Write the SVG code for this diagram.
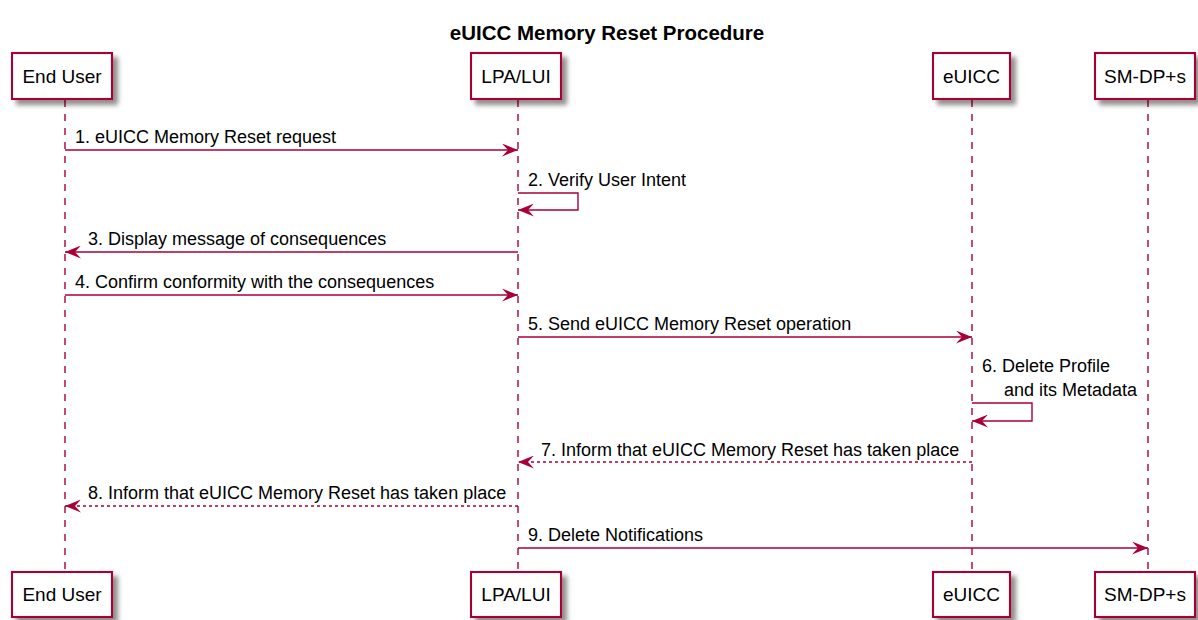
<svg xmlns="http://www.w3.org/2000/svg" width="1198" height="620" viewBox="0 0 1198 620">
<style>
.box{fill:#ffffff;stroke:#A80036;stroke-width:2.1}
.pt{font-family:"Liberation Sans",Arial,sans-serif;font-size:19px;fill:#000;text-anchor:middle}
.life{stroke:#A80036;stroke-width:1.4;stroke-dasharray:7,7;fill:none}
.msg{stroke:#A80036;stroke-width:1.4;fill:none}
.dash{stroke-dasharray:3,3}
.mt{font-family:"Liberation Sans",Arial,sans-serif;font-size:18px;fill:#000}
.title{font-family:"Liberation Sans",Arial,sans-serif;font-size:20.5px;font-weight:bold;fill:#000;text-anchor:middle}
</style>
<defs>
<filter id="sh" x="-20%" y="-20%" width="150%" height="150%">
<feGaussianBlur in="SourceAlpha" stdDeviation="2.5"/>
<feOffset dx="5" dy="5" result="b"/>
<feComponentTransfer><feFuncA type="linear" slope="0.45"/></feComponentTransfer>
<feMerge><feMergeNode/><feMergeNode in="SourceGraphic"/></feMerge>
</filter>
<marker id="ah" viewBox="0 0 16 13" refX="16" refY="6.5" markerWidth="16" markerHeight="13" markerUnits="userSpaceOnUse" orient="auto">
<polygon points="0,0 16,6.5 0,13 6,6.5" fill="#A80036"/>
</marker>
</defs>
<text class="title" x="607" y="40">eUICC Memory Reset Procedure</text>
<g id="lifelines">
<line class="life" x1="65" y1="100" x2="65" y2="572"/>
<line class="life" x1="518" y1="100" x2="518" y2="572"/>
<line class="life" x1="972" y1="100" x2="972" y2="572"/>
<line class="life" x1="1148" y1="100" x2="1148" y2="572"/>
</g>
<g id="enduser">
<rect class="box" x="12" y="53" width="100" height="46" filter="url(#sh)"/>
<text class="pt" x="62" y="83">End User</text>
<rect class="box" x="12" y="572" width="100" height="45" filter="url(#sh)"/>
<text class="pt" x="62" y="601">End User</text>
</g>
<g id="lpa">
<rect class="box" x="471" y="53" width="90" height="46" filter="url(#sh)"/>
<text class="pt" x="516" y="83">LPA/LUI</text>
<rect class="box" x="471" y="572" width="90" height="45" filter="url(#sh)"/>
<text class="pt" x="516" y="601">LPA/LUI</text>
</g>
<g id="euicc">
<rect class="box" x="933" y="53" width="77" height="46" filter="url(#sh)"/>
<text class="pt" x="971.5" y="83">eUICC</text>
<rect class="box" x="933" y="572" width="77" height="45" filter="url(#sh)"/>
<text class="pt" x="971.5" y="601">eUICC</text>
</g>
<g id="smdp">
<rect class="box" x="1095" y="53" width="100" height="46" filter="url(#sh)"/>
<text class="pt" x="1145" y="83">SM-DP+s</text>
<rect class="box" x="1095" y="572" width="100" height="45" filter="url(#sh)"/>
<text class="pt" x="1145" y="601">SM-DP+s</text>
</g>
<g id="connectors">
<line class="msg" x1="65" y1="150" x2="518" y2="150" marker-end="url(#ah)"/>
<text class="mt" x="75" y="143">1. eUICC Memory Reset request</text>
<polyline class="msg" points="518,193 578,193 578,210 518,210" marker-end="url(#ah)"/>
<text class="mt" x="528" y="186">2. Verify User Intent</text>
<line class="msg" x1="518" y1="252" x2="65" y2="252" marker-end="url(#ah)"/>
<text class="mt" x="88" y="245">3. Display message of consequences</text>
<line class="msg" x1="65" y1="295" x2="518" y2="295" marker-end="url(#ah)"/>
<text class="mt" x="75" y="288">4. Confirm conformity with the consequences</text>
<line class="msg" x1="518" y1="337" x2="972" y2="337" marker-end="url(#ah)"/>
<text class="mt" x="528" y="330">5. Send eUICC Memory Reset operation</text>
<polyline class="msg" points="972,403 1032,403 1032,421 972,421" marker-end="url(#ah)"/>
<text class="mt" x="982" y="372">6. Delete Profile</text>
<text class="mt" x="1004" y="396">and its Metadata</text>
<line class="msg dash" x1="972" y1="462" x2="518" y2="462" marker-end="url(#ah)"/>
<text class="mt" x="541" y="456">7. Inform that eUICC Memory Reset has taken place</text>
<line class="msg dash" x1="518" y1="506" x2="65" y2="506" marker-end="url(#ah)"/>
<text class="mt" x="88" y="499">8. Inform that eUICC Memory Reset has taken place</text>
<line class="msg" x1="518" y1="548" x2="1148" y2="548" marker-end="url(#ah)"/>
<text class="mt" x="528" y="541">9. Delete Notifications</text>
</g>
</svg>
